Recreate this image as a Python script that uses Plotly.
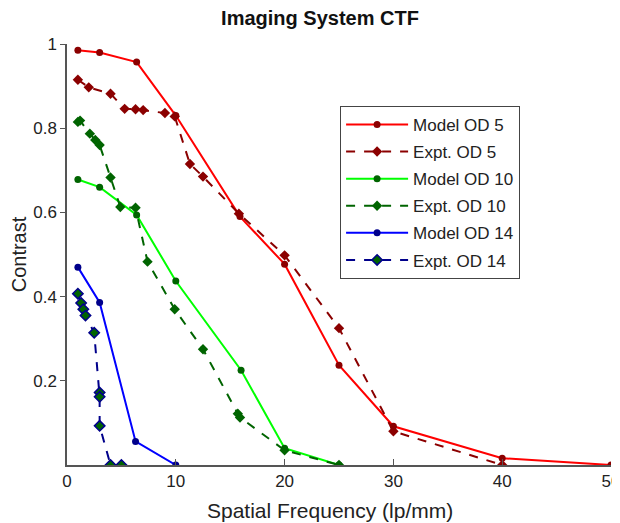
import plotly.graph_objects as go

# ---- data ----
model5_x = [1, 3, 6.4, 10, 15.9, 20, 25, 30, 40, 50]
model5_y = [0.985, 0.98, 0.957, 0.83, 0.59, 0.477, 0.237, 0.092, 0.016, 0.0]

expt5_x = [1, 2, 4, 5.3, 6.3, 7.0, 9.0, 9.9, 11.3, 12.5, 15.8, 20, 25, 30, 40]
expt5_y = [0.915, 0.897, 0.882, 0.846, 0.845, 0.843, 0.836, 0.828, 0.715, 0.685, 0.597, 0.498, 0.325, 0.08, 0.0]

model10_x = [1, 3, 6.4, 10, 16, 20, 25]
model10_y = [0.678, 0.66, 0.594, 0.437, 0.225, 0.04, 0.0]

expt10_x = [1, 1.2, 2.1, 2.6, 3.0, 4.0, 4.9, 6.3, 7.4, 9.9, 12.5, 15.7, 15.9, 20, 25]
expt10_y = [0.815, 0.818, 0.787, 0.772, 0.76, 0.683, 0.613, 0.611, 0.483, 0.37, 0.275, 0.122, 0.113, 0.035, 0.0]

model14_x = [1, 3, 6.3, 10]
model14_y = [0.47, 0.386, 0.056, 0.0]

expt14_x = [1, 1.3, 1.5, 1.7, 2.5, 3.0, 3.0, 3.0, 4.0, 5.0]
expt14_y = [0.407, 0.385, 0.37, 0.355, 0.314, 0.172, 0.162, 0.093, 0.0, 0.0]

x_ticks = [0, 10, 20, 30, 40, 50]
y_ticks = [0.2, 0.4, 0.6, 0.8, 1]
y_tick_text = ["0.2", "0.4", "0.6", "0.8", "1"]

FONT = "Liberation Sans, Arial, sans-serif"

fig = go.Figure()

def add(x, y, name, lc, mc, dash, symbol, size, mline=None):
    fig.add_trace(go.Scatter(
        x=x, y=y, name=name, mode="lines+markers",
        line=dict(color=lc, width=2, dash=dash),
        marker=dict(symbol=symbol, size=size, color=mc,
                    line=dict(color=mline or mc, width=1.5 if mline else 0)),
        legendgroup=name,
    ))

add(model5_x, model5_y, "Model OD 5", "#ff0000", "#8b0000", "solid", "circle", 7)
add(expt5_x, expt5_y, "Expt. OD 5", "#8b0000", "#8b0000", "dash", "diamond", 8)
add(model10_x, model10_y, "Model OD 10", "#00ff00", "#006400", "solid", "circle", 7)
add(expt10_x, expt10_y, "Expt. OD 10", "#006400", "#006400", "dash", "diamond", 8)
add(model14_x, model14_y, "Model OD 14", "#0000ff", "#00008b", "solid", "circle", 7)
add(expt14_x, expt14_y, "Expt. OD 14", "#00008b", "#006400", "dash", "diamond", 8, mline="#00008b")

# page renders with an 8px body offset; figure coordinates are shifted accordingly
fig.update_layout(
    width=612, height=515,
    margin=dict(l=59, r=9, t=36, b=58, autoexpand=False),
    paper_bgcolor="white", plot_bgcolor="white",
    font=dict(family=FONT, size=17, color="#222"),
    title=dict(text="<b>Imaging System CTF</b>", x=312 / 612, xanchor="center",
               y=1 - 10 / 515, yanchor="middle", font=dict(size=20, color="#111")),
    showlegend=True,
    legend=dict(x=0.502, y=0.853, xanchor="left", yanchor="top",
                bgcolor="white", bordercolor="#444", borderwidth=1,
                font=dict(size=17, color="#222"), itemwidth=62,
                tracegroupgap=2, traceorder="grouped"),
    xaxis=dict(range=[0, 50], tickvals=x_ticks, showgrid=False, zeroline=False,
               showline=True, linecolor="#555", linewidth=1.5,
               ticks="inside", ticklen=6, tickcolor="#555",
               ticklabeloverflow="allow", automargin=False),
    yaxis=dict(range=[0, 1], tickvals=y_ticks, ticktext=y_tick_text, showgrid=False,
               zeroline=False, showline=True, linecolor="#555", linewidth=1.5,
               ticks="outside", ticklen=5, tickcolor="#555", automargin=False,
               title=dict(text="Contrast", font=dict(size=20), standoff=6)),
)

fig.add_annotation(text="Spatial Frequency (lp/mm)", xref="paper", yref="paper",
                   x=(322 - 59) / 544, y=0, yshift=-45, xanchor="center", yanchor="middle",
                   showarrow=False, font=dict(size=21, color="#222", family=FONT))

fig.write_html("out.html")
